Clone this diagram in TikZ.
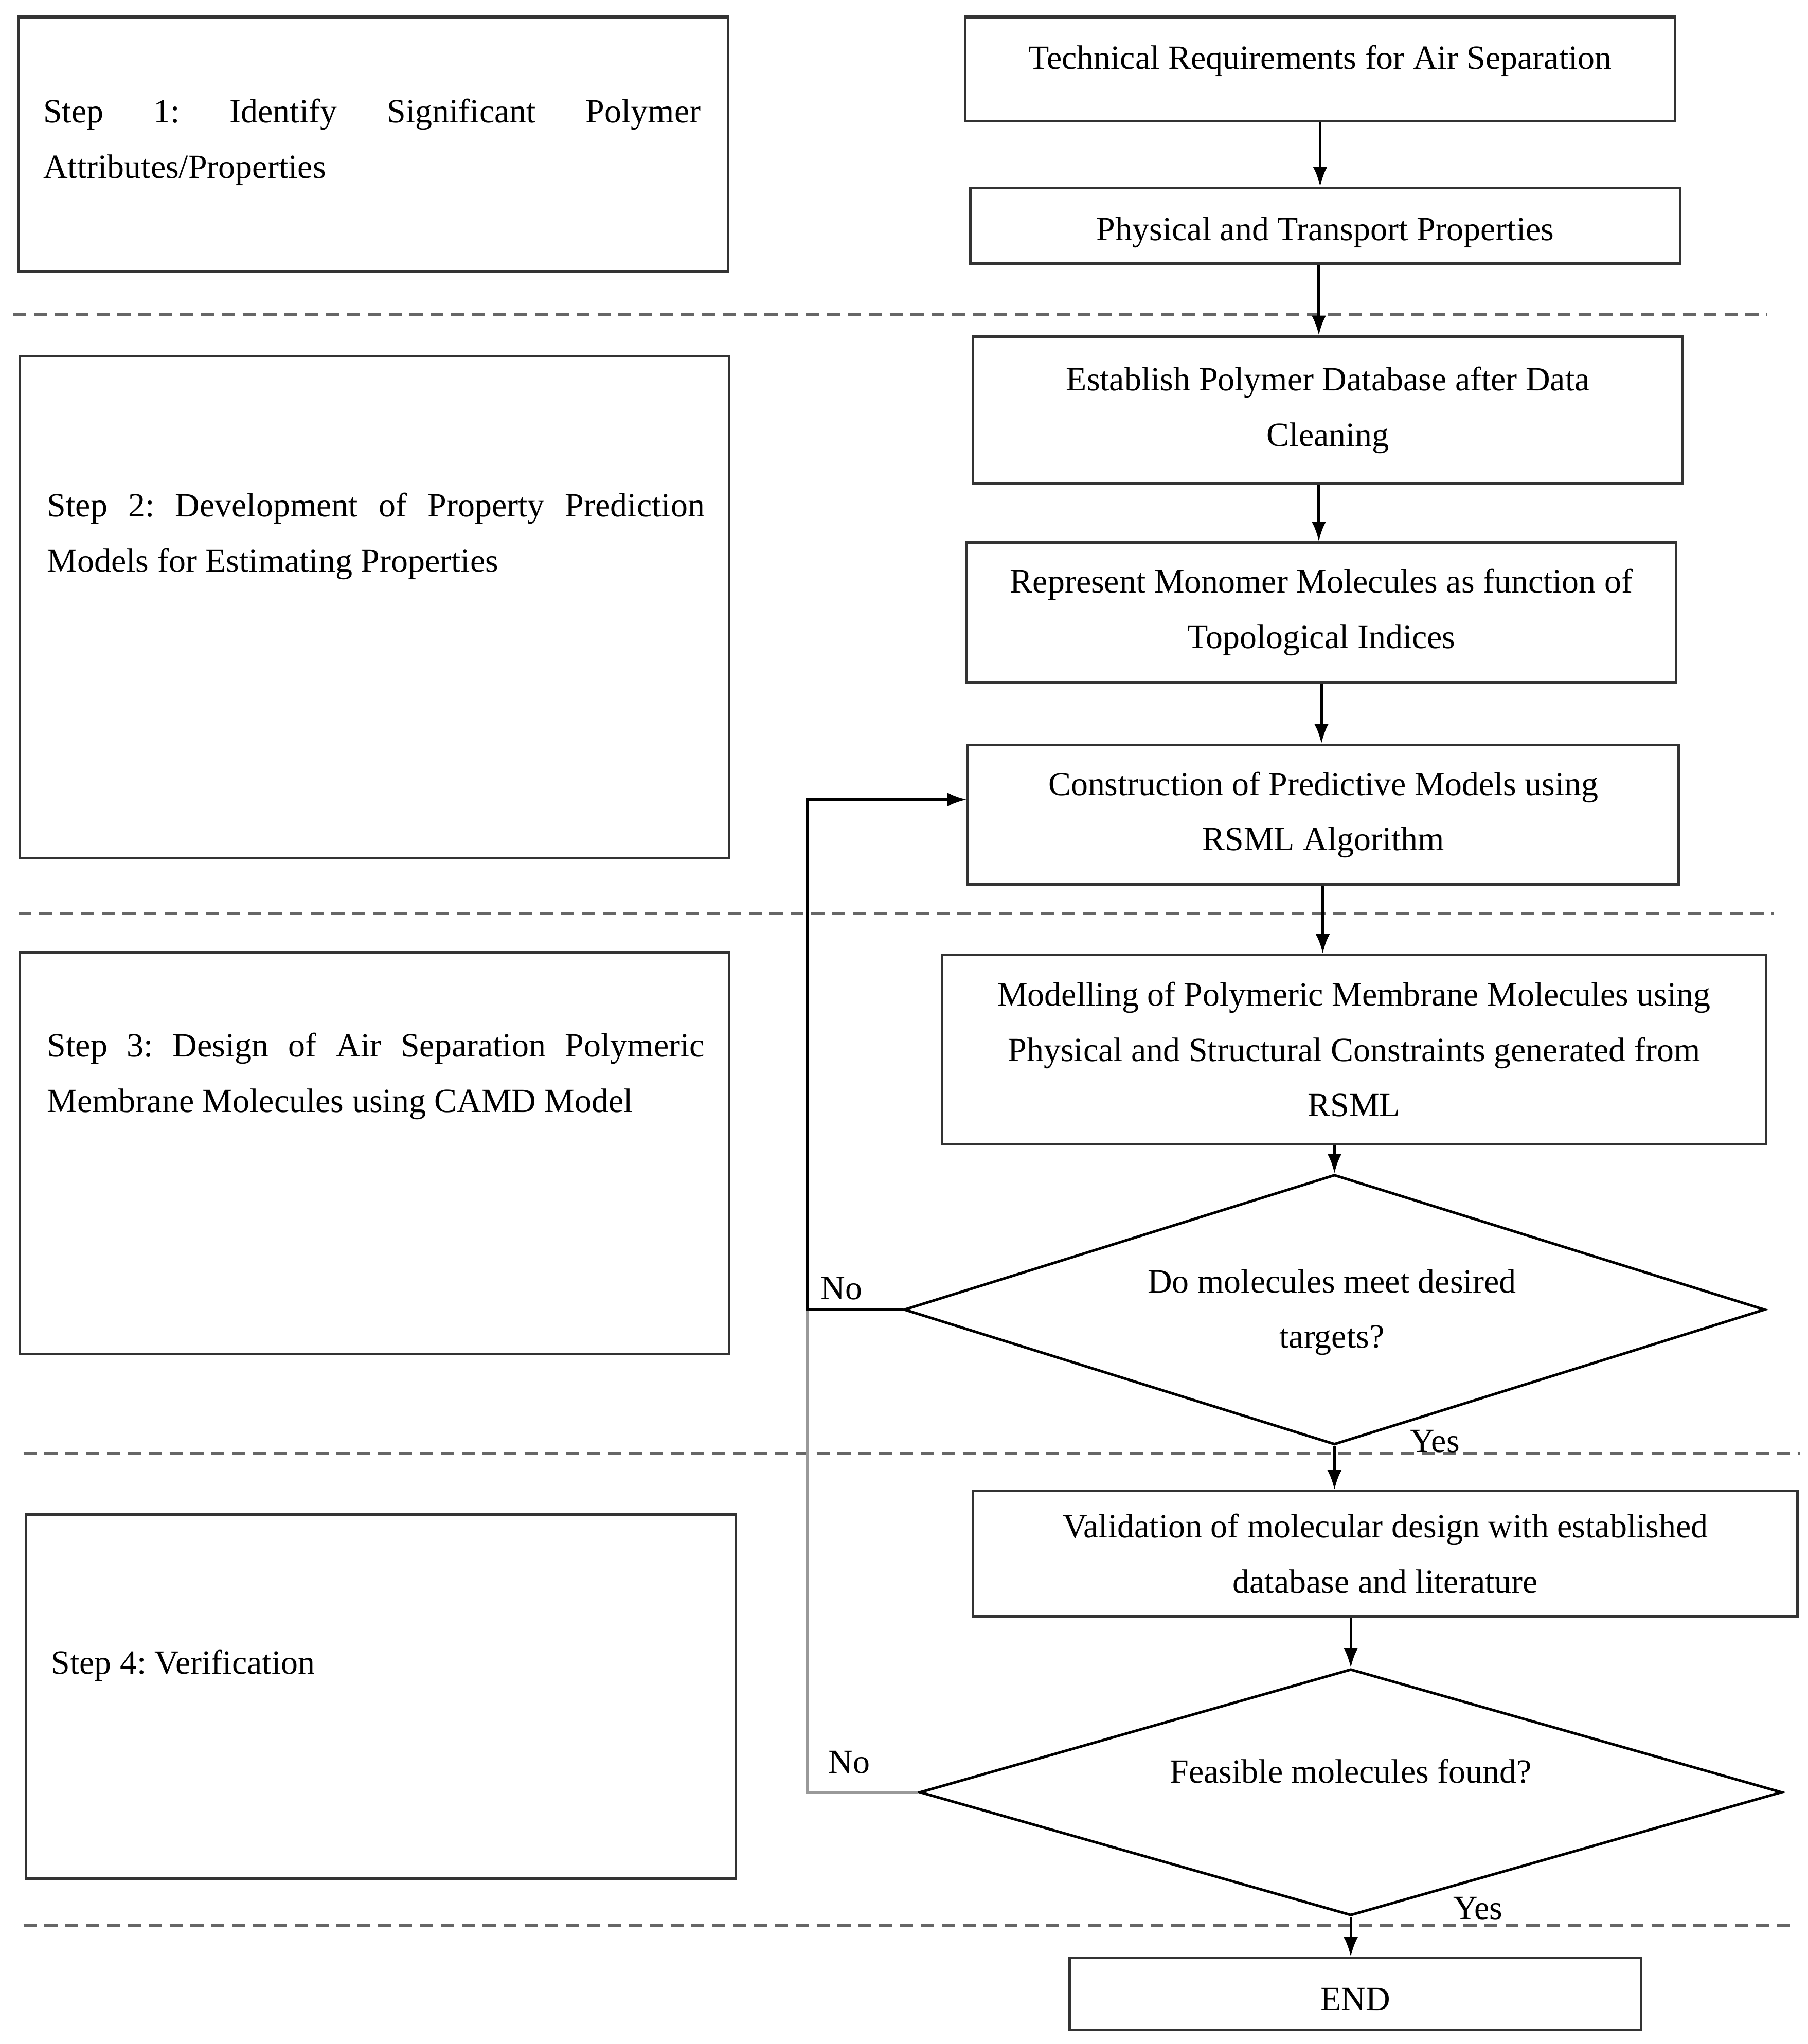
\documentclass[tikz,border=0pt]{standalone}
\usepackage{fontspec}
\setmainfont{Liberation Serif}
\usetikzlibrary{arrows.meta,shapes.geometric}
\definecolor{boxcol}{HTML}{333333}
\definecolor{dashcol}{HTML}{666666}
\definecolor{fbgray}{HTML}{999999}
\frenchspacing
\tikzset{
  txt/.style={font=\fontsize{26}{42.5}\selectfont},
  flowbox/.style={txt, rectangle, draw=boxcol, line width=2pt, inner sep=0pt, align=center, anchor=north west},
  stepbox/.style={rectangle, draw=boxcol, line width=2pt, inner sep=0pt, anchor=north west},
  steptext/.style={txt, inner sep=0pt, anchor=west, text width=504pt, align=justify},
  decision/.style={diamond, draw=black, line width=2pt, inner sep=0pt},
  arr/.style={line width=2pt, -{Latex[length=15pt,width=11pt]}},
  sep/.style={draw=dashcol, line width=2pt, dash pattern=on 10pt off 6pt},
  lbl/.style={txt, inner sep=0pt, align=center}
}
\begin{document}
\begin{tikzpicture}[x=1pt,y=-1pt]
\useasboundingbox (0,0) rectangle (1386,1567);

% separators
\draw[sep] (10,241) -- (1355,241);
\draw[sep] (14,700) -- (1360,700);
\draw[sep] (18,1114) -- (1380,1114);
\draw[sep] (18,1476) -- (1375,1476);

% step boxes
\node[stepbox, minimum width=544pt, minimum height=195pt] (s1) at (13,12) {};
\node[steptext] (s1t) at (33,109) {\frenchspacing\tolerance=10000 Step 1: Identify Significant Polymer\linebreak Attributes/Properties};
\node[stepbox, minimum width=544pt, minimum height=385pt] (s2) at (14,272) {};
\node[steptext] (s2t) at (36,411) {\frenchspacing\tolerance=10000 Step 2: Development of Property Prediction\linebreak Models for Estimating Properties};
\node[stepbox, minimum width=544pt, minimum height=308pt] (s3) at (14,729) {};
\node[steptext] (s3t) at (36,825) {\frenchspacing\tolerance=10000 Step 3: Design of Air Separation Polymeric\linebreak Membrane Molecules using CAMD Model};
\node[stepbox, minimum width=544pt, minimum height=279pt] (s4) at (19,1160) {};
\node[steptext] (s4t) at (39,1277) {\frenchspacing Step 4: Verification};

% flow boxes
\node[flowbox, minimum width=544pt, minimum height=80pt, text depth=18pt] (tr) at (739,12) {Technical Requirements for Air Separation};
\node[flowbox, minimum width=544pt, minimum height=58pt, text height=28pt] (ptp) at (743,143) {Physical and Transport Properties};
\node[flowbox, minimum width=544pt, minimum height=113pt] (epd) at (745,257) {Establish Polymer Database after Data\\Cleaning};
\node[flowbox, minimum width=544pt, minimum height=107pt] (rmm) at (740,415) {Represent Monomer Molecules as function of\\Topological Indices};
\node[flowbox, minimum width=545pt, minimum height=107pt] (cpm) at (741,570) {Construction of Predictive Models using\\RSML Algorithm};
\node[flowbox, minimum width=632pt, minimum height=145pt] (mpm) at (721,731) {Modelling of Polymeric Membrane Molecules using\\Physical and Structural Constraints generated from\\RSML};
\node[decision, minimum width=660pt, minimum height=207pt] (d1) at (1023,1004) {};
\node[lbl] (d1t) at (1021,1006) {Do molecules meet desired\\targets?};
\node[flowbox, minimum width=632pt, minimum height=96pt] (val) at (745,1142) {Validation of molecular design with established\\database and literature};
\node[decision, minimum width=661pt, minimum height=189pt] (d2) at (1035.5,1374) {};
\node[lbl] (d2t) at (1035.5,1358) {Feasible molecules found?};
\node[flowbox, minimum width=438pt, minimum height=55pt, text height=25pt] (end) at (819,1500) {END};

% labels
\node[lbl] (no1) at (645,988) {No};
\node[lbl] (no2) at (651,1351) {No};
\node[lbl] (yes1) at (1100,1105) {Yes};
\node[lbl] (yes2) at (1133,1463) {Yes};

% column coordinates
\coordinate (c1) at (1012,0);
\coordinate (c2) at (1011,0);
\coordinate (c4) at (1013,0);
\coordinate (c5) at (1014,0);
\coordinate (fbtop) at (619,613);
\coordinate (fbmid) at (619,1004);
\coordinate (fbbot) at (619,1374);

% connectors
\draw[arr] (tr.south -| c1) -- (ptp.north -| c1);
\draw[arr] (ptp.south -| c2) -- (epd.north -| c2);
\draw[arr] (epd.south -| c2) -- (rmm.north -| c2);
\draw[arr] (rmm.south -| c4) -- (cpm.north -| c4);
\draw[arr] (cpm.south -| c5) -- (mpm.north -| c5);
\draw[arr] (mpm.south -| d1.north) -- (d1.north);
\draw[arr] (d1.south) -- (d1.south |- val.north);
\draw[arr] (val.south -| d2.north) -- (d2.north);
\draw[arr] (d2.south) -- (d2.south |- end.north);

% feedback
\draw[fbgray, line width=2pt] (d2.west) -- (fbbot) -- (fbmid);
\draw[arr] (d1.west) -- (fbmid) -- (fbtop) -- (cpm.west |- fbtop);
\end{tikzpicture}
\end{document}
